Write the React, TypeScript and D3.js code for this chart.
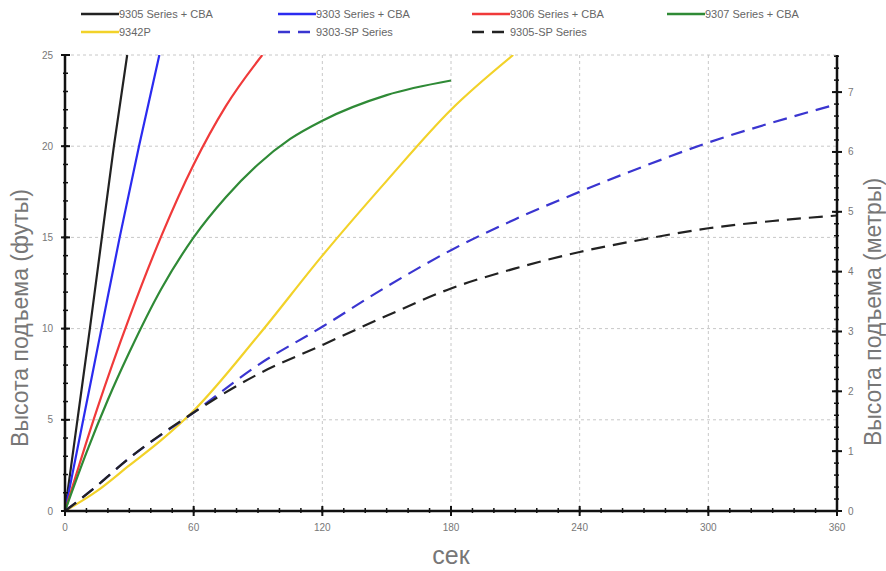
import React from "react";
import * as d3 from "d3";

// time in seconds, lift height in feet
const s9305cba = [[0, 0], [5.8, 5], [11.6, 10], [17.2, 15], [22.8, 20], [29, 25]];
const s9303cba = [[0, 0], [8.5, 5], [17, 10], [25.5, 15], [34.5, 20], [44, 25]];
const s9306cba = [[0, 0], [15, 5.6], [30, 10.6], [45, 15.1], [60, 19.0], [75, 22.2], [92, 25]];
const s9307cba = [[0, 0], [10, 3.2], [20, 6.1], [30, 8.7], [45, 12.2], [60, 15.0], [75, 17.2], [90, 19.0], [105, 20.4], [120, 21.4], [150, 22.8], [180, 23.6]];
const s9342p = [[0, 0], [15, 1.1], [30, 2.5], [45, 3.9], [60, 5.5], [90, 9.6], [120, 14.0], [150, 18.1], [180, 22.0], [209, 25]];
const s9303sp = [[0, 0], [12, 1.1], [30, 2.9], [60, 5.4], [90, 8.0], [120, 10.1], [150, 12.3], [180, 14.3], [210, 16.0], [240, 17.5], [270, 18.9], [300, 20.2], [330, 21.3], [360, 22.3]];
const s9305sp = [[0, 0], [12, 1.1], [30, 2.9], [60, 5.4], [90, 7.5], [120, 9.1], [150, 10.7], [180, 12.2], [210, 13.3], [240, 14.2], [270, 14.9], [300, 15.5], [330, 15.9], [360, 16.2]];

const seriesNames = ["9305 Series + CBA", "9303 Series + CBA", "9306 Series + CBA", "9307 Series + CBA", "9342P", "9303-SP Series", "9305-SP Series"];
const seriesData = [s9305cba, s9303cba, s9306cba, s9307cba, s9342p, s9303sp, s9305sp];
const seriesColors = ["#222222", "#2b2bf0", "#f03a3a", "#2f8a36", "#f2d229", "#3a35d0", "#222222"];
const seriesDashed = [false, false, false, false, false, true, true];

const xTicks = [0, 60, 120, 180, 240, 300, 360];
const yTicksFt = [0, 5, 10, 15, 20, 25];
const yTicksM = [0, 1, 2, 3, 4, 5, 6, 7];

const W = 886, H = 571;
const left = 65, right = 837, top = 55, bottom = 511;

export default function App() {
  const x = d3.scaleLinear().domain([0, 360]).range([left, right]);
  const y = d3.scaleLinear().domain([0, 25]).range([bottom, top]);
  const ym = d3.scaleLinear().domain([0, 25 * 0.3048]).range([bottom, top]);

  const line = d3.line<number[]>()
    .x(d => x(d[0]))
    .y(d => y(d[1]))
    .curve(d3.curveMonotoneX);

  const minorX = d3.range(0, 361, 10);
  const minorY = d3.range(0, 26, 1);
  const minorM = d3.range(0, 7.62, 0.2);

  const tickColor = "#111";
  const labelColor = "#777";
  const font = "Liberation Sans, Arial, sans-serif";

  const legendX = [81, 278, 472, 667];

  return (
    <svg width={W} height={H} style={{ position: "absolute", left: 0, top: 0, background: "#fff" }} fontFamily={font}>
      <defs>
        <clipPath id="plot">
          <rect x={left} y={top} width={right - left} height={bottom - top} />
        </clipPath>
      </defs>

      {/* grid */}
      {xTicks.slice(1, -1).map(t => (
        <line key={"gx" + t} x1={x(t)} x2={x(t)} y1={top} y2={bottom} stroke="#c8c8c8" strokeDasharray="3,3" />
      ))}
      {yTicksFt.slice(1).map(t => (
        <line key={"gy" + t} x1={left} x2={right} y1={y(t)} y2={y(t)} stroke="#c8c8c8" strokeDasharray="3,3" />
      ))}

      {/* curves */}
      <g clipPath="url(#plot)">
        {seriesData.map((d, i) => (
          <path key={seriesNames[i]} d={line(d) || ""} fill="none" stroke={seriesColors[i]}
            strokeWidth={2.2} strokeDasharray={seriesDashed[i] ? "14,8" : undefined} />
        ))}
      </g>

      {/* left axis */}
      <line x1={left} x2={left} y1={top} y2={bottom} stroke={tickColor} strokeWidth={2.5} />
      {minorY.map(t => (
        <line key={"my" + t} x1={left - 2} x2={left + 3} y1={y(t)} y2={y(t)} stroke={tickColor} strokeWidth={1.5} />
      ))}
      {yTicksFt.map(t => (
        <g key={"ly" + t}>
          <line x1={left - 4} x2={left + 5} y1={y(t)} y2={y(t)} stroke={tickColor} strokeWidth={2} />
          <text x={left - 12} y={y(t)} dy="0.35em" textAnchor="end" fontSize={10} fill={labelColor}>{t}</text>
        </g>
      ))}

      {/* right axis (metres) */}
      <line x1={right} x2={right} y1={top} y2={bottom} stroke={tickColor} strokeWidth={2.5} />
      {minorM.map(t => (
        <line key={"mm" + t} x1={right - 3} x2={right + 2} y1={ym(t)} y2={ym(t)} stroke={tickColor} strokeWidth={1.5} />
      ))}
      {yTicksM.map(t => (
        <g key={"lm" + t}>
          <line x1={right - 5} x2={right + 5} y1={ym(t)} y2={ym(t)} stroke={tickColor} strokeWidth={2} />
          <text x={right + 11} y={ym(t)} dy="0.35em" textAnchor="start" fontSize={10} fill={labelColor}>{t}</text>
        </g>
      ))}

      {/* bottom axis */}
      <line x1={left} x2={right} y1={bottom} y2={bottom} stroke={tickColor} strokeWidth={2.5} />
      {minorX.map(t => (
        <line key={"mx" + t} x1={x(t)} x2={x(t)} y1={bottom - 3} y2={bottom + 2} stroke={tickColor} strokeWidth={1.5} />
      ))}
      {xTicks.map(t => (
        <g key={"lx" + t}>
          <line x1={x(t)} x2={x(t)} y1={bottom - 5} y2={bottom + 5} stroke={tickColor} strokeWidth={2} />
          <text x={x(t)} y={bottom + 20} textAnchor="middle" fontSize={10} fill={labelColor}>{t}</text>
        </g>
      ))}

      {/* axis titles */}
      <text transform="translate(28, 318) rotate(-90)" textAnchor="middle" fontSize={23} fill={labelColor}>
        Высота подъема (футы)
      </text>
      <text transform="translate(881, 312) rotate(-90)" textAnchor="middle" fontSize={23} fill={labelColor}>
        Высота подъема (метры)
      </text>
      <text x={(left + right) / 2} y={564} textAnchor="middle" fontSize={25} fill={labelColor}>сек</text>

      {/* legend */}
      {seriesNames.map((name, i) => {
        const lx = legendX[i % 4];
        const ly = i < 4 ? 14 : 32;
        return (
          <g key={"lg" + name}>
            <line x1={lx} x2={lx + 38} y1={ly} y2={ly} stroke={seriesColors[i]} strokeWidth={2.5}
              strokeDasharray={seriesDashed[i] ? "12,8" : undefined} />
            <text x={lx + 38} y={ly} dy="0.35em" fontSize={11} fill="#666">{name}</text>
          </g>
        );
      })}
    </svg>
  );
}
